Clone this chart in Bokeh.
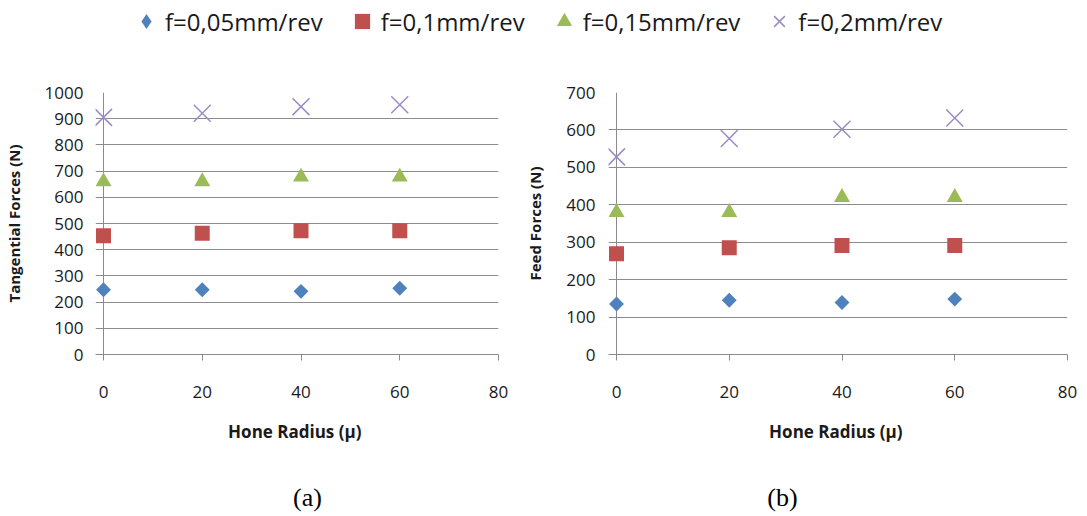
import math
from bokeh.plotting import figure
from bokeh.layouts import column, row
from bokeh.models import Range1d, Legend, LegendItem, Label, Span
from bokeh.embed import file_html
from bokeh.resources import INLINE

# ---------------- data ----------------
hone_radius = [0, 20, 40, 60]
x_ticks = [0, 20, 40, 60, 80]
tang_ticks = [0, 100, 200, 300, 400, 500, 600, 700, 800, 900, 1000]
feed_ticks = [0, 100, 200, 300, 400, 500, 600, 700]
series_labels = ["f=0,05mm/rev", "f=0,1mm/rev", "f=0,15mm/rev", "f=0,2mm/rev"]

tang_f005 = [247, 247, 241, 253]
tang_f01 = [453, 463, 472, 472]
tang_f015 = [660, 660, 678, 678]
tang_f02 = [905, 921, 946, 953]

feed_f005 = [135, 145, 139, 148]
feed_f01 = [269, 285, 291, 291]
feed_f015 = [380, 380, 420, 420]
feed_f02 = [528, 577, 602, 632]

# ---------------- styles ----------------
FONT = "Open Sans"
TXT = "#1a1a1a"
GRID = "#8c8c8c"
COLORS = ["#4F81BD", "#C0504D", "#9BBB59", "#9D8CC4"]
ROW_H = 416


def add_series(p, ys_list):
    p.scatter(hone_radius, ys_list[0], marker="square", angle=math.pi / 4, size=10.5,
              fill_color=COLORS[0], line_color=None)
    p.scatter(hone_radius, ys_list[1], marker="square", size=15,
              fill_color=COLORS[1], line_color=None)
    p.scatter(hone_radius, ys_list[2], marker="triangle", size=16,
              fill_color=COLORS[2], line_color=None)
    p.scatter(hone_radius, ys_list[3], marker="x", size=24,
              line_color=COLORS[3], line_width=1.5)


def make_panel(width, frame_left, axis_px, frame_right_px, b_top, frame_bottom_abs,
               y_max, y_ticks, ylabel, ys_list, label_standoff):
    plot_w = frame_right_px - axis_px
    x_start = -80.0 * (axis_px - frame_left) / plot_w
    p = figure(width=width, height=ROW_H, x_range=Range1d(x_start, 80), y_range=Range1d(0, y_max),
               output_backend="svg", toolbar_location=None,
               min_border_left=frame_left, min_border_right=width - frame_right_px,
               min_border_top=b_top, min_border_bottom=ROW_H - (frame_bottom_abs - 50))
    p.outline_line_color = None
    p.background_fill_color = "white"
    p.xgrid.visible = False
    p.ygrid.grid_line_color = GRID
    p.ygrid.grid_line_width = 1

    p.xaxis.ticker = x_ticks
    p.yaxis.ticker = y_ticks
    for ax in (p.xaxis[0], p.yaxis[0]):
        ax.minor_tick_line_color = None
        ax.major_label_text_font = FONT
        ax.major_label_text_font_size = "17px"
        ax.major_label_text_color = TXT
        ax.axis_label_text_font = FONT
        ax.axis_label_text_font_style = "bold"
        ax.axis_label_text_color = TXT
    # x axis: line + outward ticks
    p.xaxis.axis_line_color = GRID
    p.xaxis.major_tick_line_color = GRID
    p.xaxis.major_tick_in = 0
    p.xaxis.major_tick_out = 6
    p.xaxis.axis_label = "Hone Radius  (\u03bc)"
    p.xaxis.axis_label_text_font_size = "17px"
    p.xaxis.major_label_standoff = 25
    p.xaxis.axis_label_standoff = 19
    # y axis: labels only (gridlines give the tick stubs), axis line drawn at x = 0
    p.yaxis.axis_line_color = None
    p.yaxis.major_tick_line_color = None
    p.yaxis.major_tick_in = 0
    p.yaxis.major_tick_out = 0
    p.yaxis.axis_label = ylabel
    p.yaxis.axis_label_text_font_size = "15px"
    p.yaxis.major_label_standoff = label_standoff
    p.yaxis.axis_label_standoff = 18
    p.add_layout(Span(location=0, dimension="height", line_color=GRID, line_width=1,
                      level="underlay"))

    add_series(p, ys_list)
    return p


fig_a = make_panel(520, 95, 103, 498, 42, 359, 1000, tang_ticks, "Tangential Forces (N)",
                   [tang_f005, tang_f01, tang_f015, tang_f02], 12)
fig_b = make_panel(567, 608 - 520, 616 - 520, 1067 - 520, 41, 354, 700, feed_ticks,
                   "Feed Forces (N)", [feed_f005, feed_f01, feed_f015, feed_f02], 13)


def strip(height):
    s = figure(width=1087, height=height, x_range=Range1d(100, 101), y_range=Range1d(0, 1),
               output_backend="svg", toolbar_location=None,
               x_axis_location=None, y_axis_location=None,
               min_border_left=0, min_border_right=0, min_border_top=0, min_border_bottom=0)
    s.outline_line_color = None
    s.xgrid.visible = False
    s.ygrid.visible = False
    return s


# ---------------- legend strip ----------------
leg = strip(50)
r1 = leg.scatter(hone_radius, tang_f005, marker="diamond", fill_color=COLORS[0], line_color=None)
r2 = leg.scatter(hone_radius, tang_f01, marker="square", fill_color=COLORS[1], line_color=None)
r3 = leg.scatter(hone_radius, tang_f015, marker="triangle", fill_color=COLORS[2], line_color=None)
r4 = leg.scatter(hone_radius, tang_f02, marker="x", line_color=COLORS[3], line_width=1.5)

legend = Legend(items=[LegendItem(label=series_labels[i], renderers=[r])
                       for i, r in enumerate([r1, r2, r3, r4])],
                orientation="horizontal", location=(127, 10),
                label_text_font=FONT, label_text_font_size="24px", label_text_color=TXT,
                glyph_width=38, glyph_height=38, label_standoff=0, spacing=20,
                padding=0, margin=0, border_line_color=None, background_fill_alpha=0)
leg.add_layout(legend)

# ---------------- caption strip ----------------
cap = strip(516 - 50 - ROW_H)
for txt, cx in (("(a)", 307), ("(b)", 782)):
    cap.add_layout(Label(x=cx, y=19, x_units="screen", y_units="screen", text=txt,
                         text_font="Liberation Serif", text_font_size="26px",
                         text_align="center", text_baseline="middle", text_color="black"))

layout = column(leg, row(fig_a, fig_b), cap)

open("out.html", "w").write(file_html(layout, INLINE))
